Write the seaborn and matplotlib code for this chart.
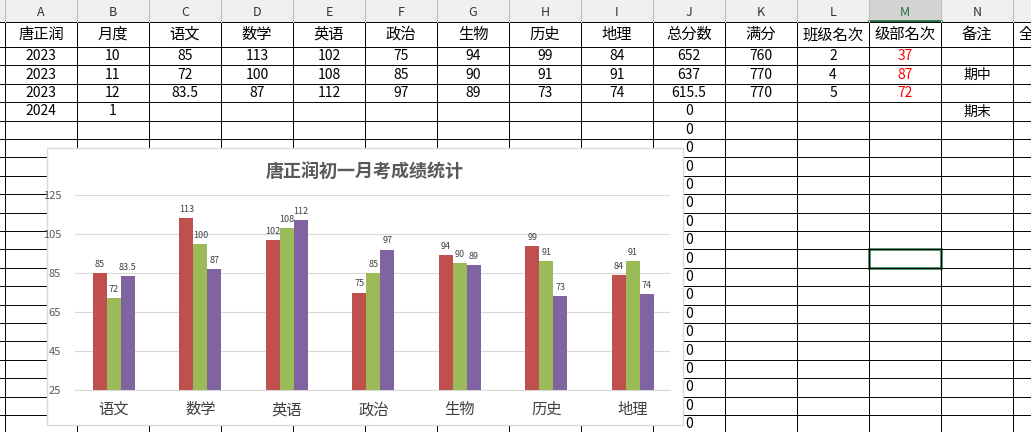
import matplotlib
matplotlib.use("Agg")
import matplotlib.pyplot as plt
from matplotlib import font_manager
import seaborn as sns
import pandas as pd
from matplotlib.patches import Rectangle

cjk = [f.name for f in font_manager.fontManager.ttflist if "CJK" in f.name]
if not cjk:
    for path in font_manager.findSystemFonts():
        if "CJK" in path or "cjk" in path.lower():
            try:
                font_manager.fontManager.addfont(path)
            except Exception:
                pass
    cjk = [f.name for f in font_manager.fontManager.ttflist if "CJK" in f.name]
pref = [n for n in ["Noto Sans CJK SC", "Noto Sans CJK JP", "Noto Sans CJK TC"] if n in cjk]
plt.rcParams["font.family"] = (pref or sorted(set(cjk))[:1]) + ["DejaVu Sans"]

# spreadsheet data
col_letters = ["A", "B", "C", "D", "E", "F", "G", "H", "I", "J", "K", "L", "M", "N", "O"]
header_row = ["唐正润", "月度", "语文", "数学", "英语", "政治", "生物", "历史", "地理",
              "总分数", "满分", "班级名次", "级部名次", "备注", "全"]
rows = [
    ["2023", "10", "85", "113", "102", "75", "94", "99", "84", "652", "760", "2", "37", ""],
    ["2023", "11", "72", "100", "108", "85", "90", "91", "91", "637", "770", "4", "87", "期中"],
    ["2023", "12", "83.5", "87", "112", "97", "89", "73", "74", "615.5", "770", "5", "72", ""],
    ["2024", "1", "", "", "", "", "", "", "", "0", "", "", "", "期末"],
]

# chart data
subjects = ["语文", "数学", "英语", "政治", "生物", "历史", "地理"]
month10 = [85, 113, 102, 75, 94, 99, 84]
month11 = [72, 100, 108, 85, 90, 91, 91]
month12 = [83.5, 87, 112, 97, 89, 73, 74]
series_names = ["10月", "11月", "12月"]
colors = ["#C0504D", "#9BBB59", "#8064A2"]

W, H = 1031, 432
fig = plt.figure(figsize=(W / 100, H / 100), dpi=100)
bg = fig.add_axes([0, 0, 1, 1])
bg.set_xlim(0, W)
bg.set_ylim(H, 0)
bg.axis("off")

col_x = [5 + 72 * i for i in range(15)] + [1086]
# column header band
bg.add_patch(Rectangle((0, 0), W, 22, facecolor="#F0F0F0", edgecolor="none"))
bg.add_patch(Rectangle((col_x[12], 0), 72, 22, facecolor="#D3D3D3", edgecolor="none"))
for i, letter in enumerate(col_letters[:14]):
    c = "#217346" if letter == "M" else "#333333"
    bg.text(col_x[i] + 36, 12, letter, ha="center", va="center", fontsize=9, color=c)
bg.plot([col_x[12], col_x[13]], [21, 21], color="#217346", lw=2)

row_y = [22, 47] + [47 + 18.4 * k for k in range(1, 22)]
for y in row_y:
    bg.plot([0, W], [y, y], color="black", lw=0.7)
for x in col_x:
    bg.plot([x, x], [22, H], color="black", lw=0.7)
    bg.plot([x, x], [0, 22], color="#C0C0C0", lw=0.8)

for i, t in enumerate(header_row):
    if i == 14:
        bg.text(1018, 34.5, t, ha="left", va="center", fontsize=11)
    else:
        bg.text(col_x[i] + 36, 34.5, t, ha="center", va="center", fontsize=11)
for r, vals in enumerate(rows):
    yc = 47 + 18.4 * r + 9.2
    for i, t in enumerate(vals):
        if not t:
            continue
        if i == 13:
            bg.text(col_x[i] + 22, yc, t, ha="left", va="center", fontsize=10)
        else:
            bg.text(col_x[i] + 36, yc, t, ha="center", va="center", fontsize=10,
                    color="#FF0000" if i == 12 else "black")
for k in range(4, 21):
    yc = 47 + 18.4 * k + 9.2
    bg.text(col_x[9] + 36, yc, "0", ha="center", va="center", fontsize=10)
# selected cell
bg.add_patch(Rectangle((col_x[12], 47 + 18.4 * 11), 72, 18.4, facecolor="none",
                       edgecolor="#217346", lw=1.8))

# chart area
bg.add_patch(Rectangle((47, 148), 636, 277, facecolor="white", edgecolor="#D9D9D9", lw=1, zorder=5))
bg.text(365, 172, "唐正润初一月考成绩统计", ha="center", va="center", fontsize=13,
        fontweight="bold", color="#595959", zorder=6)

df = pd.DataFrame({
    "科目": subjects * 3,
    "分数": month10 + month11 + month12,
    "月份": sum([[n] * len(subjects) for n in series_names], []),
})
ax = fig.add_axes([75 / W, 1 - 390 / H, 595 / W, 195 / H], zorder=10)
ax.patch.set_alpha(0)
sns.barplot(data=df, x="科目", y="分数", hue="月份", palette=colors, width=0.486,
            saturation=1, ax=ax, legend=False, zorder=3)
ax.set_xlim(-0.45, 6.43)
ax.set_ylim(25, 125)
ax.set_yticks([25, 45, 65, 85, 105, 125])
ax.yaxis.grid(True, color="#D9D9D9", lw=0.8)
ax.set_axisbelow(True)
for s in ax.spines.values():
    s.set_visible(False)
ax.spines["bottom"].set_visible(True)
ax.spines["bottom"].set_color("#D9D9D9")
ax.tick_params(axis="y", length=0, labelsize=8, colors="#595959", pad=10)
ax.tick_params(axis="x", length=0, labelsize=11, colors="#404040", pad=8)
ax.set_xlabel("")
ax.set_ylabel("")
for cont in ax.containers:
    ax.bar_label(cont, labels=[f"{v:g}" for v in cont.datavalues], fontsize=6.5,
                 color="#404040", padding=3)

fig.savefig("out.png", dpi=100)
